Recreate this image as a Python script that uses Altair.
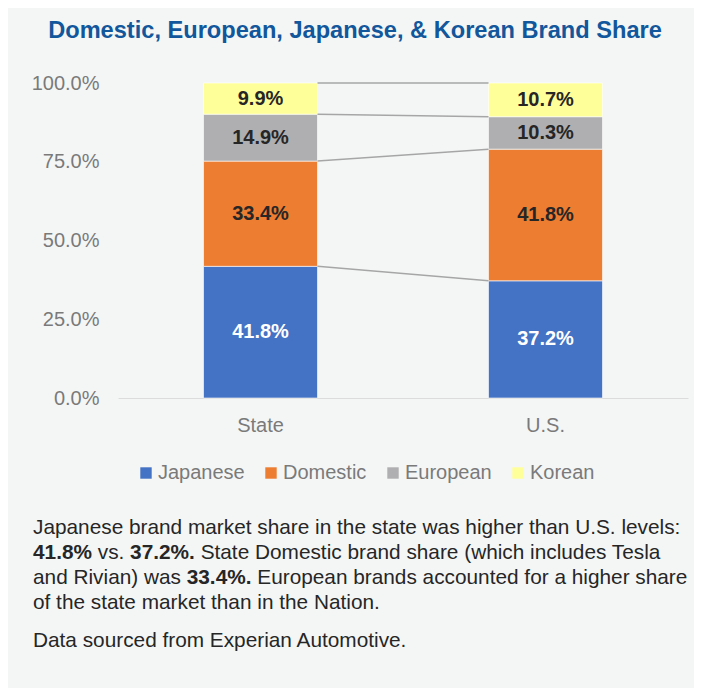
import altair as alt
import pandas as pd

FONT = "Liberation Sans"

# ---- data -------------------------------------------------------------
regions = ["State", "U.S."]
brands = ["Japanese", "Domestic", "European", "Korean"]
state_share = [41.8, 33.4, 14.9, 9.9]
us_share = [37.2, 41.8, 10.3, 10.7]
brand_colors = ["#4472c4", "#ed7d31", "#afafb1", "#ffff99"]
y_ticks = [0, 0.25, 0.5, 0.75, 1.0]

title_text = "Domestic, European, Japanese, & Korean Brand Share"
paragraph = [
    [("Japanese brand market share in the state was higher than U.S. levels:", 0)],
    [("41.8%", 1), (" vs. ", 0), ("37.2%.", 1), (" State Domestic brand share (which includes Tesla", 0)],
    [("and Rivian) was ", 0), ("33.4%.", 1), (" European brands accounted for a higher share", 0)],
    [("of the state market than in the Nation.", 0)],
    [("Data sourced from Experian Automotive.", 0)],
]
line_y = [451, 476, 501, 526, 564]   # baselines relative to plot top
para_x = -85
para_size = 20.8

# ---- tables -------------------------------------------------------------
rows = []
cums = {}
for reg, shares in zip(regions, [state_share, us_share]):
    c = 0.0
    cl = [0.0]
    for b, v in zip(brands, shares):
        rows.append(dict(region=reg, brand=b, start=c / 100, end=(c + v) / 100,
                         mid=(c + v / 2) / 100, label=f"{v:.1f}%"))
        c += v
        cl.append(c)
    cums[reg] = cl
bars_df = pd.DataFrame(rows)

rule_df = pd.DataFrame([
    dict(region=regions[0], to=regions[1], start=cums[regions[0]][i] / 100, end=cums[regions[1]][i] / 100)
    for i in range(1, len(brands) + 1)
])

# Arial / Liberation Sans advance widths (1/1000 em)
W = {' ': 278, '%': 889, '&': 667, '(': 333, ')': 333, ',': 278, '.': 278, ':': 278}
for d in "0123456789":
    W[d] = 556
W.update(dict(zip("ABCDEFGHIJKLMNOPQRSTUVWXYZ",
                  [667, 667, 722, 722, 667, 611, 778, 722, 278, 500, 667, 556, 833, 722, 778, 667, 778, 722, 667, 611, 722, 667, 944, 667, 667, 611])))
W.update(dict(zip("abcdefghijklmnopqrstuvwxyz",
                  [556, 556, 500, 556, 556, 278, 556, 556, 222, 222, 500, 222, 833, 556, 556, 556, 556, 333, 500, 278, 556, 500, 722, 500, 500, 500])))


def tw(s):
    return sum(W.get(ch, 556) for ch in s) * para_size / 1000.0


seg_rows = []
for segs, yy in zip(paragraph, line_y):
    x = para_x
    for s, bold in segs:
        lead = len(s) - len(s.lstrip(' '))
        seg_rows.append(dict(px=x + tw(s[:lead]), py=yy, text=s.strip(' '), bold=bold))
        x += tw(s)
para_df = pd.DataFrame(seg_rows)
title_df = pd.DataFrame([dict(px=237, py=-45, text=title_text)])

# ---- encodings ------------------------------------------------------------
x_scale = alt.Scale(domain=regions, paddingInner=0.6, paddingOuter=0.3)
x_axis = alt.Axis(title=None, labelAngle=0, ticks=False, domain=True, domainColor="#dcdcdc",
                  domainWidth=1.2, labelFontSize=20, labelColor="#7a7a7a", labelFont=FONT,
                  labelPadding=17)
y_scale = alt.Scale(domain=[0, 1], nice=False)
y_axis = alt.Axis(title=None, values=y_ticks, format=".1%", grid=False, domain=False,
                  ticks=False, tickSize=0, labelFontSize=20, labelColor="#7a7a7a",
                  labelFont=FONT, labelPadding=19)

bars = alt.Chart(bars_df).mark_bar(stroke="#ffffff", strokeWidth=0.6).encode(
    x=alt.X("region:N", sort=regions, scale=x_scale, axis=x_axis),
    y=alt.Y("start:Q", scale=y_scale, axis=y_axis),
    y2="end:Q",
    color=alt.Color("brand:N", scale=alt.Scale(domain=brands, range=brand_colors),
                    legend=alt.Legend(orient="none", legendX=18, legendY=380,
                                      direction="horizontal", title=None,
                                      symbolType="square", symbolSize=130,
                                      symbolStrokeWidth=0, labelFontSize=20,
                                      labelColor="#7a7a7a", labelFont=FONT,
                                      labelOffset=2, columnPadding=16, padding=0)),
)

rules = alt.Chart(rule_df).mark_rule(color="#a6a6a6", strokeWidth=1.5).encode(
    x=alt.X("region:N", sort=regions, scale=x_scale, axis=x_axis, bandPosition=1),
    x2=alt.X2("to:N", bandPosition=0),
    y=alt.Y("start:Q", scale=y_scale, axis=y_axis),
    y2="end:Q",
)

lab_white = alt.Chart(bars_df).transform_filter(alt.datum.brand == brands[0]).mark_text(
    font=FONT, fontSize=20, fontWeight="bold", color="#ffffff", baseline="middle").encode(
    x=alt.X("region:N", sort=regions, scale=x_scale, axis=x_axis),
    y=alt.Y("mid:Q", scale=y_scale, axis=y_axis),
    text="label:N",
)
lab_dark = alt.Chart(bars_df).transform_filter(alt.datum.brand != brands[0]).mark_text(
    font=FONT, fontSize=20, fontWeight="bold", color="#262626", baseline="middle").encode(
    x=alt.X("region:N", sort=regions, scale=x_scale, axis=x_axis),
    y=alt.Y("mid:Q", scale=y_scale, axis=y_axis),
    text="label:N",
)

main = alt.layer(bars, rules, lab_white, lab_dark)

title_mark = alt.Chart(title_df).mark_text(
    font=FONT, fontSize=23.6, fontWeight="bold", color="#12579b", align="center",
    baseline="alphabetic").encode(
    x=alt.X("px:Q", scale=None, axis=None),
    y=alt.Y("py:Q", scale=None, axis=None),
    text="text:N",
)
para_reg = alt.Chart(para_df).transform_filter(alt.datum.bold == 0).mark_text(
    font=FONT, fontSize=para_size, color="#262626", align="left", baseline="alphabetic").encode(
    x=alt.X("px:Q", scale=None, axis=None),
    y=alt.Y("py:Q", scale=None, axis=None),
    text="text:N",
)
para_bold = alt.Chart(para_df).transform_filter(alt.datum.bold == 1).mark_text(
    font=FONT, fontSize=para_size, fontWeight="bold", color="#262626", align="left",
    baseline="alphabetic").encode(
    x=alt.X("px:Q", scale=None, axis=None),
    y=alt.Y("py:Q", scale=None, axis=None),
    text="text:N",
)
notes = alt.layer(title_mark, para_reg, para_bold)

chart = alt.layer(main, notes).resolve_scale(x="independent", y="independent").properties(
    width=570, height=315,
    autosize=alt.AutoSizeParams(type="none"),
    padding={"left": 110, "top": 75, "right": 6, "bottom": 290},
    background="#f4f6f6",
).configure_view(stroke=None)

chart.save("out.html", embed_options={"renderer": "svg", "actions": False})
